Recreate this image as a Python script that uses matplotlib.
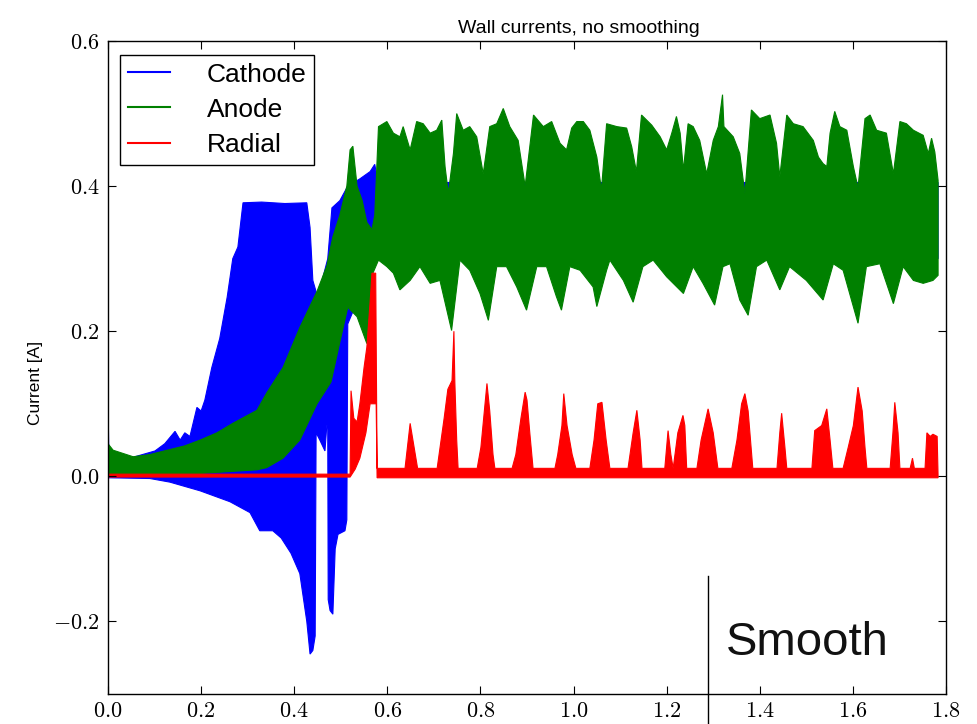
import numpy as np
import matplotlib
matplotlib.use("Agg")
import matplotlib.pyplot as plt
from matplotlib.lines import Line2D
from matplotlib.ticker import FuncFormatter

plt.rcParams['font.family'] = ['Liberation Sans', 'DejaVu Sans']
plt.rcParams['mathtext.fontset'] = 'cm'

# envelopes (time in s, current in A)
cathode_hi_t = [0.000, 0.002, 0.047, 0.101, 0.122, 0.144, 0.155, 0.165, 0.176, 0.191, 0.200,
                0.208, 0.223, 0.240, 0.256, 0.268, 0.279, 0.290, 0.330, 0.380, 0.427, 0.434,
                0.440, 0.449, 0.460, 0.472, 0.481, 0.498, 0.515, 0.541, 0.563, 0.573, 0.580,
                1.783]
cathode_hi = [0.105, 0.020, 0.025, 0.035, 0.045, 0.062, 0.050, 0.060, 0.055, 0.095, 0.090,
              0.105, 0.150, 0.190, 0.247, 0.300, 0.316, 0.377, 0.378, 0.376, 0.377, 0.343,
              0.270, 0.250, 0.270, 0.300, 0.370, 0.380, 0.400, 0.410, 0.420, 0.430, 0.405,
              0.405]
cathode_lo_t = [0.000, 0.090, 0.133, 0.198, 0.262, 0.305, 0.326, 0.354, 0.372, 0.393, 0.412,
                0.427, 0.434, 0.440, 0.445, 0.447, 0.455, 0.466, 0.470, 0.472, 0.473, 0.477,
                0.483, 0.488, 0.494, 0.509, 0.513, 0.515, 0.541, 0.580, 1.783]
cathode_lo = [-0.002, -0.003, -0.008, -0.020, -0.035, -0.050, -0.075, -0.075, -0.085, -0.106,
              -0.134, -0.200, -0.245, -0.240, -0.220, 0.060, 0.050, 0.035, 0.070, 0.070,
              -0.170, -0.185, -0.190, -0.100, -0.080, -0.075, -0.060, 0.210, 0.250, 0.300,
              0.300]

anode_hi_t = [0.000, 0.011, 0.054, 0.090, 0.127, 0.165, 0.198, 0.234, 0.268, 0.320, 0.341,
              0.376, 0.412, 0.449, 0.470, 0.483, 0.498, 0.513, 0.520, 0.526, 0.535, 0.546,
              0.556, 0.567, 0.573, 0.581,
              0.599, 0.613, 0.627, 0.634, 0.649, 0.663, 0.677, 0.692, 0.706, 0.717, 0.724,
              0.731, 0.742, 0.749, 0.763, 0.777, 0.792, 0.806, 0.820, 0.835, 0.849, 0.863,
              0.881, 0.896, 0.914, 0.935, 0.953, 0.971, 0.985, 0.996, 1.007, 1.021, 1.035,
              1.050, 1.060, 1.071, 1.093, 1.114, 1.125, 1.135, 1.146, 1.168, 1.186, 1.200,
              1.211, 1.221, 1.229, 1.236, 1.246, 1.257, 1.271, 1.286, 1.300, 1.311, 1.320,
              1.323, 1.343, 1.357, 1.368, 1.382, 1.400, 1.422, 1.436, 1.443, 1.458, 1.472,
              1.493, 1.515, 1.526, 1.536, 1.544, 1.551, 1.561, 1.572, 1.587, 1.601, 1.611,
              1.626, 1.637, 1.651, 1.672, 1.687, 1.701, 1.715, 1.730, 1.751, 1.762, 1.769,
              1.776, 1.783]
anode_hi = [0.045, 0.036, 0.027, 0.030, 0.036, 0.042, 0.050, 0.060, 0.073, 0.091, 0.115,
            0.150, 0.205, 0.255, 0.290, 0.330, 0.360, 0.400, 0.450, 0.455, 0.400, 0.380,
            0.350, 0.340, 0.360, 0.482,
            0.489, 0.473, 0.468, 0.482, 0.450, 0.489, 0.486, 0.473, 0.477, 0.491, 0.427,
            0.390, 0.445, 0.500, 0.477, 0.482, 0.468, 0.417, 0.482, 0.486, 0.507, 0.482,
            0.463, 0.400, 0.498, 0.482, 0.489, 0.459, 0.450, 0.480, 0.489, 0.489, 0.477,
            0.440, 0.395, 0.486, 0.482, 0.480, 0.454, 0.420, 0.498, 0.484, 0.468, 0.450,
            0.473, 0.496, 0.473, 0.422, 0.486, 0.482, 0.463, 0.417, 0.463, 0.482, 0.526,
            0.482, 0.468, 0.445, 0.390, 0.505, 0.493, 0.498, 0.459, 0.413, 0.498, 0.486,
            0.482, 0.463, 0.440, 0.431, 0.427, 0.473, 0.503, 0.482, 0.477, 0.427, 0.398,
            0.493, 0.498, 0.477, 0.473, 0.417, 0.489, 0.486, 0.477, 0.470, 0.445, 0.466,
            0.447, 0.408]
anode_lo_t = [0.000, 0.198, 0.320, 0.341, 0.376, 0.412, 0.449, 0.479, 0.498, 0.515, 0.535,
              0.556, 0.569, 0.581,
              0.599, 0.613, 0.627, 0.649, 0.670, 0.692, 0.713, 0.738, 0.756, 0.777, 0.799,
              0.817, 0.835, 0.856, 0.878, 0.899, 0.921, 0.942, 0.963, 0.974, 0.992, 1.014,
              1.042, 1.050, 1.071, 1.078, 1.107, 1.128, 1.149, 1.171, 1.200, 1.236, 1.257,
              1.278, 1.303, 1.321, 1.336, 1.357, 1.375, 1.393, 1.415, 1.443, 1.464, 1.500,
              1.536, 1.558, 1.579, 1.611, 1.629, 1.658, 1.687, 1.708, 1.730, 1.751, 1.772,
              1.783]
anode_lo = [0.000, 0.004, 0.009, 0.012, 0.025, 0.050, 0.100, 0.130, 0.185, 0.233, 0.220,
            0.183, 0.280, 0.298,
            0.289, 0.280, 0.257, 0.270, 0.289, 0.266, 0.270, 0.201, 0.298, 0.284, 0.252,
            0.215, 0.289, 0.289, 0.261, 0.229, 0.289, 0.289, 0.248, 0.229, 0.289, 0.284,
            0.261, 0.234, 0.284, 0.298, 0.270, 0.240, 0.289, 0.298, 0.275, 0.252, 0.289,
            0.266, 0.236, 0.289, 0.293, 0.243, 0.222, 0.289, 0.298, 0.257, 0.289, 0.270,
            0.243, 0.293, 0.284, 0.211, 0.289, 0.293, 0.238, 0.289, 0.270, 0.266, 0.270,
            0.277]

radial_hi_t = [0.000, 0.520, 0.522, 0.528, 0.535, 0.541, 0.550, 0.556, 0.563, 0.567, 0.575,
               0.578, 0.638, 0.649, 0.665, 0.707, 0.722, 0.730, 0.739, 0.743, 0.745, 0.749,
               0.752, 0.793, 0.801, 0.814, 0.820, 0.827, 0.831, 0.868, 0.876, 0.887, 0.896,
               0.900, 0.906, 0.913, 0.960, 0.966, 0.975, 0.979, 0.986, 0.997, 1.005, 1.035,
               1.044, 1.052, 1.061, 1.070, 1.078, 1.117, 1.128, 1.136, 1.143, 1.147, 1.196,
               1.203, 1.209, 1.214, 1.224, 1.235, 1.239, 1.243, 1.265, 1.274, 1.289, 1.300,
               1.310, 1.340, 1.351, 1.361, 1.368, 1.375, 1.385, 1.437, 1.443, 1.447, 1.454,
               1.458, 1.512, 1.518, 1.533, 1.544, 1.551, 1.557, 1.579, 1.590, 1.601, 1.611,
               1.620, 1.626, 1.630, 1.680, 1.686, 1.690, 1.697, 1.701, 1.723, 1.728, 1.732,
               1.755, 1.759, 1.766, 1.772, 1.781, 1.783]
radial_hi = [0.003, 0.003, 0.118, 0.080, 0.075, 0.100, 0.150, 0.178, 0.240, 0.280, 0.280,
             0.011, 0.011, 0.073, 0.011, 0.011, 0.080, 0.120, 0.132, 0.200, 0.130, 0.050,
             0.011, 0.011, 0.040, 0.128, 0.090, 0.030, 0.011, 0.011, 0.030, 0.080, 0.116,
             0.105, 0.060, 0.011, 0.011, 0.030, 0.070, 0.114, 0.070, 0.030, 0.011, 0.011,
             0.050, 0.100, 0.102, 0.050, 0.011, 0.011, 0.060, 0.091, 0.050, 0.011, 0.011,
             0.063, 0.030, 0.011, 0.060, 0.084, 0.070, 0.011, 0.011, 0.050, 0.093, 0.060,
             0.011, 0.011, 0.050, 0.100, 0.114, 0.090, 0.011, 0.011, 0.060, 0.087, 0.040,
             0.011, 0.011, 0.063, 0.070, 0.093, 0.050, 0.011, 0.011, 0.040, 0.070, 0.123,
             0.090, 0.040, 0.011, 0.011, 0.060, 0.102, 0.060, 0.011, 0.011, 0.025, 0.011,
             0.011, 0.060, 0.055, 0.058, 0.055, 0.000]
radial_lo_t = [0.000, 0.520, 0.531, 0.541, 0.554, 0.563, 0.576, 0.578, 1.783]
radial_lo = [-0.001, -0.001, 0.010, 0.025, 0.060, 0.100, 0.100, -0.002, -0.002]

x_ticks = [0.0, 0.2, 0.4, 0.6, 0.8, 1.0, 1.2, 1.4, 1.6, 1.8]
y_ticks = [-0.2, 0.0, 0.2, 0.4, 0.6]

series = [
    ("Cathode", "#0000ff", cathode_hi_t, cathode_hi, cathode_lo_t, cathode_lo),
    ("Anode", "#008000", anode_hi_t, anode_hi, anode_lo_t, anode_lo),
    ("Radial", "#ff0000", radial_hi_t, radial_hi, radial_lo_t, radial_lo),
]

fig = plt.figure(figsize=(9.78, 7.24), dpi=100)
ax = fig.add_axes([108 / 978, 30 / 724, 838 / 978, 653 / 724])

handles = []
for name, col, ht, hv, lt, lv in series:
    xs = np.concatenate([ht, lt[::-1]])
    ys = np.concatenate([hv, lv[::-1]])
    ax.fill(xs, ys, color=col, lw=0.8)
    handles.append(Line2D([], [], color=col, lw=1.5, label=name))

ax.set_xlim(0, 1.8)
ax.set_ylim(-0.3, 0.6)
ax.set_xticks(x_ticks)
ax.set_yticks(y_ticks)
fmt = FuncFormatter(lambda v, p: r"$%.1f$" % v)
ax.xaxis.set_major_formatter(fmt)
ax.yaxis.set_major_formatter(fmt)
ax.tick_params(direction="in", top=True, right=True, length=6, labelsize=16, pad=6)
ax.tick_params(axis="x", pad=5)
for s in ax.spines.values():
    s.set_linewidth(1.0)

ax.set_title("Wall currents, no smoothing", fontsize=14, x=0.562, pad=6)
ax.set_ylabel("Current [A]", fontsize=12.5)
ax.yaxis.set_label_coords(-0.078, 0.476)

leg = ax.legend(handles=handles, loc="upper left", fontsize=19, fancybox=False,
                edgecolor="black", framealpha=1, handlelength=1.6, handletextpad=1.4,
                borderpad=0.3, labelspacing=0.42, borderaxespad=0,
                bbox_to_anchor=(0.014, 0.979))
leg.get_frame().set_linewidth(1.0)

# "Smooth" marker drawn over the figure
fig.add_artist(Line2D([708 / 978, 708 / 978], [0, 1 - 576 / 724],
                      transform=fig.transFigure, color="black", lw=1))
fig.text(726 / 978, 1 - 655 / 724, "Smooth", fontsize=34, color="#111111")

fig.savefig("out.png", dpi=100)
